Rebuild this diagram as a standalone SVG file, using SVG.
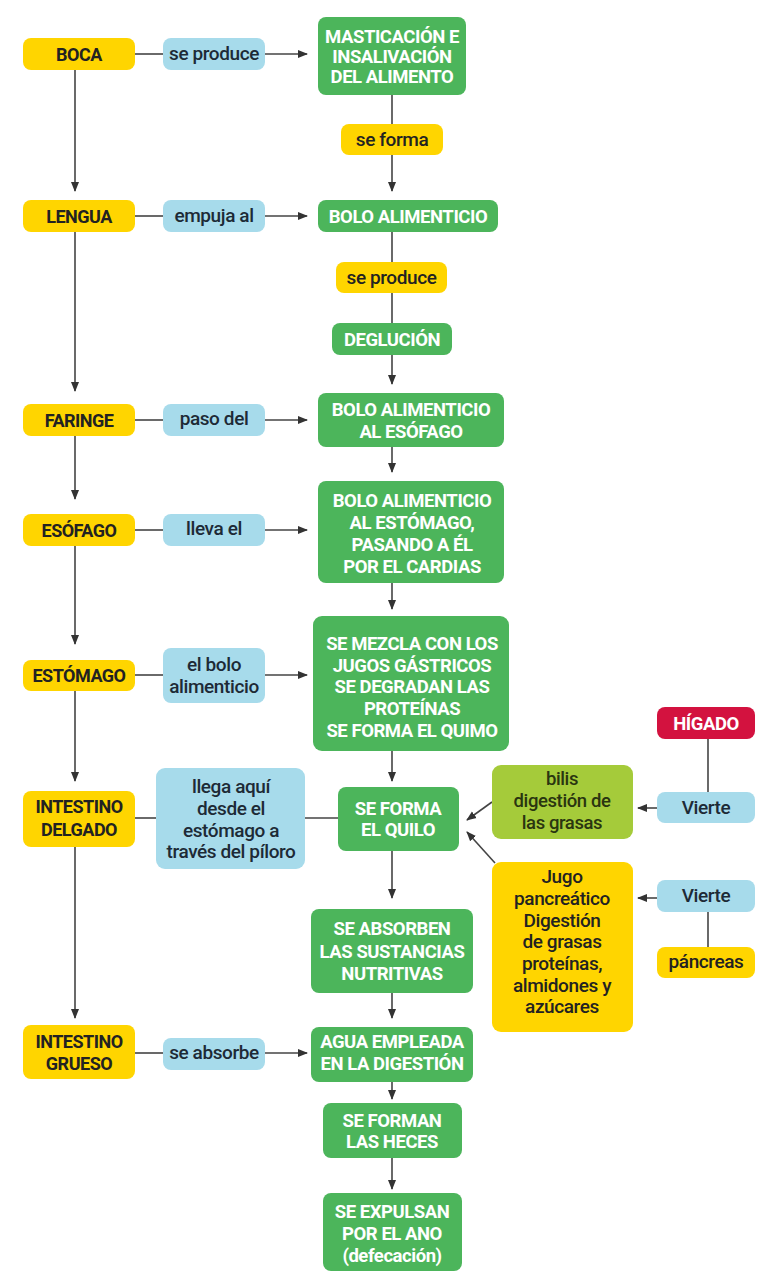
<svg xmlns="http://www.w3.org/2000/svg" width="770" height="1280" viewBox="0 0 770 1280">
<style>
.y{fill:#FFD500}
.b{fill:#A7DBEB}
.g{fill:#4CB55B}
.l{fill:#A5CB3A}
.r{fill:#D3123F}
text{font-family:Roboto,"Liberation Sans",sans-serif;text-anchor:middle}
.tu{font-size:18px;font-weight:700;letter-spacing:-0.5px;fill:#222}
.tw{font-size:18.5px;font-weight:700;letter-spacing:-0.45px;fill:#fff}
.tl{font-size:19px;font-weight:500;letter-spacing:-0.4px;fill:#1d2a36}
.tk{font-size:19px;font-weight:500;letter-spacing:-0.4px;fill:#222}
.to{font-size:18.5px;font-weight:500;letter-spacing:-0.4px;fill:#2a3510}
.c line{stroke:#444;stroke-width:1.6;fill:none}
</style>
<defs>
<marker id="a" markerUnits="userSpaceOnUse" markerWidth="10" markerHeight="10" viewBox="0 0 10 10" refX="9" refY="5" orient="auto">
<path d="M0,1 L10,5 L0,9 Z" fill="#333"/>
</marker>
</defs>
<rect width="770" height="1280" fill="#fff"/>
<g class="c">
<line x1="75" y1="70" x2="75" y2="191" marker-end="url(#a)"/>
<line x1="75" y1="232" x2="75" y2="391" marker-end="url(#a)"/>
<line x1="75" y1="435" x2="75" y2="499" marker-end="url(#a)"/>
<line x1="75" y1="546" x2="75" y2="644" marker-end="url(#a)"/>
<line x1="75" y1="691" x2="75" y2="781" marker-end="url(#a)"/>
<line x1="75" y1="847" x2="75" y2="1018" marker-end="url(#a)"/>
<line x1="135" y1="54" x2="163" y2="54"/>
<line x1="265" y1="54" x2="307" y2="54" marker-end="url(#a)"/>
<line x1="135" y1="216" x2="163" y2="216"/>
<line x1="265" y1="216" x2="307" y2="216" marker-end="url(#a)"/>
<line x1="135" y1="420" x2="163" y2="420"/>
<line x1="265" y1="420" x2="307" y2="420" marker-end="url(#a)"/>
<line x1="135" y1="530" x2="163" y2="530"/>
<line x1="265" y1="530" x2="307" y2="530" marker-end="url(#a)"/>
<line x1="135" y1="675" x2="163" y2="675"/>
<line x1="265" y1="675" x2="307" y2="675" marker-end="url(#a)"/>
<line x1="135" y1="818" x2="156" y2="818"/>
<line x1="305" y1="818" x2="338" y2="818"/>
<line x1="135" y1="1053" x2="163" y2="1053"/>
<line x1="265" y1="1053" x2="307" y2="1053" marker-end="url(#a)"/>
<line x1="392" y1="95" x2="392" y2="124"/>
<line x1="392" y1="155" x2="392" y2="191" marker-end="url(#a)"/>
<line x1="392" y1="232" x2="392" y2="262"/>
<line x1="392" y1="293" x2="392" y2="323"/>
<line x1="392" y1="355" x2="392" y2="384" marker-end="url(#a)"/>
<line x1="392" y1="447" x2="392" y2="472" marker-end="url(#a)"/>
<line x1="392" y1="583" x2="392" y2="609" marker-end="url(#a)"/>
<line x1="392" y1="751" x2="392" y2="781" marker-end="url(#a)"/>
<line x1="392" y1="851" x2="392" y2="898" marker-end="url(#a)"/>
<line x1="392" y1="993" x2="392" y2="1018" marker-end="url(#a)"/>
<line x1="392" y1="1082" x2="392" y2="1099" marker-end="url(#a)"/>
<line x1="392" y1="1158" x2="392" y2="1189" marker-end="url(#a)"/>
<line x1="708" y1="739" x2="708" y2="792"/>
<line x1="657" y1="808" x2="638" y2="808" marker-end="url(#a)"/>
<line x1="657" y1="898" x2="638" y2="898" marker-end="url(#a)"/>
<line x1="708" y1="912" x2="708" y2="947"/>
<line x1="492" y1="802" x2="467" y2="820" marker-end="url(#a)"/>
<line x1="495" y1="863" x2="467" y2="832" marker-end="url(#a)"/>
</g>
<g id="boca"><rect class="y" x="23" y="38" width="112" height="32" rx="8"/><text class="tu" x="79" y="60.5">BOCA</text></g>
<g id="lengua"><rect class="y" x="23" y="200" width="112" height="32" rx="8"/><text class="tu" x="79" y="222.5">LENGUA</text></g>
<g id="faringe"><rect class="y" x="23" y="404" width="112" height="32" rx="8"/><text class="tu" x="79" y="426.5">FARINGE</text></g>
<g id="esofago"><rect class="y" x="23" y="514" width="112" height="32" rx="8"/><text class="tu" x="79" y="536.5">ESÓFAGO</text></g>
<g id="estomago"><rect class="y" x="23" y="660" width="112" height="31" rx="8"/><text class="tu" x="79" y="681.5">ESTÓMAGO</text></g>
<g id="delgado"><rect class="y" x="23" y="791" width="112" height="56" rx="8"/><text class="tu" x="79" y="813">INTESTINO</text><text class="tu" x="79" y="836">DELGADO</text></g>
<g id="grueso"><rect class="y" x="23" y="1025" width="112" height="54" rx="8"/><text class="tu" x="79" y="1048">INTESTINO</text><text class="tu" x="79" y="1070">GRUESO</text></g>

<g id="l1"><rect class="b" x="163" y="38" width="102" height="32" rx="8"/><text class="tl" x="214" y="60">se produce</text></g>
<g id="l2"><rect class="b" x="163" y="200" width="102" height="32" rx="8"/><text class="tl" x="214" y="222">empuja al</text></g>
<g id="l3"><rect class="b" x="163" y="404" width="102" height="32" rx="8"/><text class="tl" x="214" y="425">paso del</text></g>
<g id="l4"><rect class="b" x="163" y="514" width="102" height="32" rx="8"/><text class="tl" x="214" y="535">lleva el</text></g>
<g id="l5"><rect class="b" x="163" y="648" width="102" height="55" rx="8"/><text class="tl" x="214" y="671">el bolo</text><text class="tl" x="214" y="693">alimenticio</text></g>
<g id="l6"><rect class="b" x="156" y="768" width="149" height="101" rx="9"/><text class="tl" x="231" y="793">llega aquí</text><text class="tl" x="231" y="815">desde el</text><text class="tl" x="231" y="837">estómago a</text><text class="tl" x="231" y="858">través del píloro</text></g>
<g id="l7"><rect class="b" x="163" y="1038" width="102" height="32" rx="8"/><text class="tl" x="214" y="1059">se absorbe</text></g>

<g id="mast"><rect class="g" x="318" y="17" width="148" height="78" rx="8"/><text class="tw" x="392" y="43">MASTICACIÓN E</text><text class="tw" x="392" y="63">INSALIVACIÓN</text><text class="tw" x="392" y="83">DEL ALIMENTO</text></g>
<g id="seforma"><rect class="y" x="341" y="124" width="102" height="31" rx="8"/><text class="tk" x="392" y="146">se forma</text></g>
<g id="bolo1"><rect class="g" x="318" y="200" width="180" height="32" rx="8"/><text class="tw" x="408" y="222.5">BOLO ALIMENTICIO</text></g>
<g id="seproduce"><rect class="y" x="336" y="262" width="111" height="31" rx="8"/><text class="tk" x="391.5" y="284">se produce</text></g>
<g id="deglucion"><rect class="g" x="332" y="323" width="120" height="32" rx="8"/><text class="tw" x="392" y="345.5">DEGLUCIÓN</text></g>
<g id="bolo2"><rect class="g" x="318" y="393" width="186" height="54" rx="8"/><text class="tw" x="411" y="416">BOLO ALIMENTICIO</text><text class="tw" x="411" y="438">AL ESÓFAGO</text></g>
<g id="bolo3"><rect class="g" x="318" y="481" width="186" height="102" rx="8"/><text class="tw" x="412" y="507">BOLO ALIMENTICIO</text><text class="tw" x="412" y="529">AL ESTÓMAGO,</text><text class="tw" x="412" y="551">PASANDO A ÉL</text><text class="tw" x="412" y="573">POR EL CARDIAS</text></g>
<g id="mezcla"><rect class="g" x="313" y="616" width="196" height="135" rx="9"/><text class="tw" x="412" y="650">SE MEZCLA CON LOS</text><text class="tw" x="412" y="672">JUGOS GÁSTRICOS</text><text class="tw" x="412" y="693">SE DEGRADAN LAS</text><text class="tw" x="412" y="715">PROTEÍNAS</text><text class="tw" x="412" y="737">SE FORMA EL QUIMO</text></g>
<g id="quilo"><rect class="g" x="338" y="787" width="121" height="64" rx="8"/><text class="tw" x="398" y="815">SE FORMA</text><text class="tw" x="398" y="836">EL QUILO</text></g>
<g id="absorben"><rect class="g" x="311" y="909" width="162" height="84" rx="8"/><text class="tw" x="392" y="935">SE ABSORBEN</text><text class="tw" x="392" y="958">LAS SUSTANCIAS</text><text class="tw" x="392" y="980">NUTRITIVAS</text></g>
<g id="agua"><rect class="g" x="311" y="1027" width="162" height="55" rx="8"/><text class="tw" x="392" y="1048">AGUA EMPLEADA</text><text class="tw" x="392" y="1070">EN LA DIGESTIÓN</text></g>
<g id="heces"><rect class="g" x="323" y="1103" width="139" height="55" rx="8"/><text class="tw" x="392" y="1127">SE FORMAN</text><text class="tw" x="392" y="1148">LAS HECES</text></g>
<g id="expulsan"><rect class="g" x="323" y="1193" width="139" height="78" rx="8"/><text class="tw" x="392" y="1218">SE EXPULSAN</text><text class="tw" x="392" y="1240">POR EL ANO</text><text class="tw" x="392" y="1262">(defecación)</text></g>

<g id="higado"><rect class="r" x="657" y="707" width="98" height="32" rx="8"/><text class="tw" x="706" y="729.5">HÍGADO</text></g>
<g id="vierte1"><rect class="b" x="657" y="792" width="98" height="31" rx="8"/><text class="tl" x="706" y="814">Vierte</text></g>
<g id="bilis"><rect class="l" x="492" y="765" width="141" height="74" rx="9"/><text class="to" x="562" y="785">bilis</text><text class="to" x="562" y="807">digestión de</text><text class="to" x="562" y="829">las grasas</text></g>
<g id="jugo"><rect class="y" x="492" y="862" width="141" height="170" rx="9"/><text class="tk" x="562" y="883">Jugo</text><text class="tk" x="562" y="905">pancreático</text><text class="tk" x="562" y="927">Digestión</text><text class="tk" x="562" y="948">de grasas</text><text class="tk" x="562" y="970">proteínas,</text><text class="tk" x="562" y="992">almidones y</text><text class="tk" x="562" y="1013">azúcares</text></g>
<g id="vierte2"><rect class="b" x="657" y="880" width="98" height="32" rx="8"/><text class="tl" x="706" y="902">Vierte</text></g>
<g id="pancreas"><rect class="y" x="657" y="947" width="98" height="31" rx="8"/><text class="tk" x="706" y="968">páncreas</text></g>
</svg>
